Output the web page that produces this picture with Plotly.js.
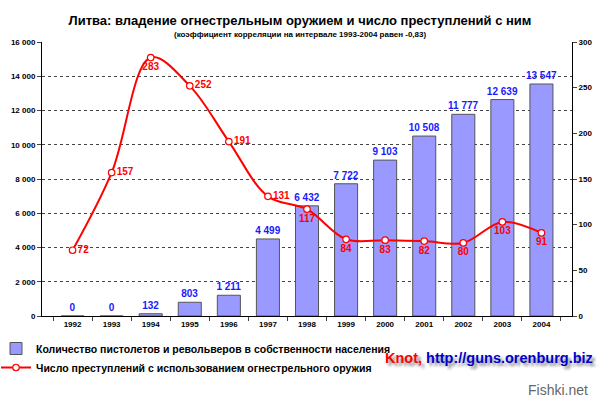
<!DOCTYPE html>
<html><head><meta charset="utf-8">
<script src="https://cdn.plot.ly/plotly-3.0.1.min.js"></script>
<style>body{margin:0;background:#fff}#c{width:600px;height:403px}</style>
</head><body><div id="c"></div>
<script>
const years = ['1992','1993','1994','1995','1996','1997','1998','1999','2000','2001','2002','2003','2004'];
const guns = [0,0,132,803,1211,4499,6432,7722,9103,10508,11777,12639,13547];
const crimes = [72,157,283,252,191,131,117,84,83,82,80,103,91];
const crimeLabelPos = ['middle right','middle right','bottom center','middle right','middle right','middle right','bottom center','bottom center','bottom center','bottom center','bottom center','bottom center','bottom center'];
const leftTicks = [0,2000,4000,6000,8000,10000,12000,14000,16000];
const rightTicks = [0,50,100,150,200,250,300];

const F = 'Arial, "Liberation Sans", sans-serif';
const traces = [
 {type:'bar', x:years, y:guns, name:'Количество пистолетов и револьверов в собственности населения',
  marker:{color:'#9999ff', line:{color:'#555555', width:1}},
  texttemplate:'%{y:,d}', textposition:'outside', cliponaxis:false, constraintext:'none',
  textfont:{family:F, size:10, color:'#1a1aff', weight:'bold'}, hoverinfo:'skip'},
 {type:'scatter', mode:'lines+markers+text', x:years, y:crimes, yaxis:'y2',
  name:'Число преступлений с использованием огнестрельного оружия',
  line:{color:'#ff0000', width:2, shape:'spline', smoothing:1},
  marker:{symbol:'circle', size:6.5, color:'#ffffff', line:{color:'#ff0000', width:1.2}},
  text:crimes.map(String), textposition:crimeLabelPos, cliponaxis:false,
  textfont:{family:F, size:10, color:'#ff0000', weight:'bold'}, hoverinfo:'skip'}
];
const PW = 530, PH = 274;
const layout = {
 width:600, height:403, paper_bgcolor:'#fff', plot_bgcolor:'#fff',
 margin:{l:42, r:28, t:42, b:87, autoexpand:false},
 separators:', ',
 showlegend:true, bargap:0.41,
 font:{family:F, size:8, color:'#000'},
 xaxis:{type:'category', ticks:'outside', tickson:'boundaries', ticklen:4, showline:true, linecolor:'#000', linewidth:1,
   tickfont:{family:F, size:8, weight:'bold'}, showgrid:false, tickangle:0},
 yaxis:{range:[0,16000], tickvals:leftTicks, ticktext:leftTicks.map(v=>String(v).replace(/\B(?=(\d{3})+(?!\d))/g,' ')),
   ticks:'outside', ticklen:4, showline:true, linecolor:'#000', linewidth:1,
   gridcolor:'#444', griddash:'dot', gridwidth:1, zeroline:false, tickfont:{family:F, size:8, weight:'bold'}},
 yaxis2:{range:[0,300], tickvals:rightTicks, overlaying:'y', side:'right', ticks:'outside', ticklen:4,
   showline:true, linecolor:'#000', linewidth:1, showgrid:false, zeroline:false, tickfont:{family:F, size:8, weight:'bold'}},
 legend:{x:-46/PW, y:-(334-316)/PH, xanchor:'left', yanchor:'top',
   font:{family:F, size:10.5, weight:'bold'}, bgcolor:'rgba(0,0,0,0)', tracegroupgap:0, itemwidth:30, traceorder:'normal'},
 title:{text:'Литва: владение огнестрельным оружием и число преступлений с ним', x:0.5, xanchor:'center',
   y:1-20/403, yanchor:'middle', font:{family:F, size:13, weight:'bold', color:'#000'}},
 annotations:[
  {xref:'paper', yref:'paper', x:(300-42)/PW, y:1+7/PH, xanchor:'center', yanchor:'middle', showarrow:false,
   text:'(коэффициент корреляции на интервале 1993-2004 равен -0,83)', font:{family:F, size:8, weight:'bold'}},
  {xref:'paper', yref:'paper', x:(595-42)/PW, y:-(358-316)/PH, xanchor:'right', yanchor:'middle', showarrow:false,
   text:'<span style="color:#ff0000">Knot,</span> <span style="color:#0000cc">http://guns.orenburg.biz</span>',
   font:{family:F, size:14.5, weight:'bold', shadow:'3px 3px 3px #888'}},
  {xref:'paper', yref:'paper', x:(590-42)/PW, y:-(390-316)/PH, xanchor:'right', yanchor:'middle', showarrow:false,
   text:'Fishki.net', font:{family:F, size:14, color:'#666'}}
 ]
};
Plotly.newPlot('c', traces, layout, {staticPlot:true});
</script></body></html>
